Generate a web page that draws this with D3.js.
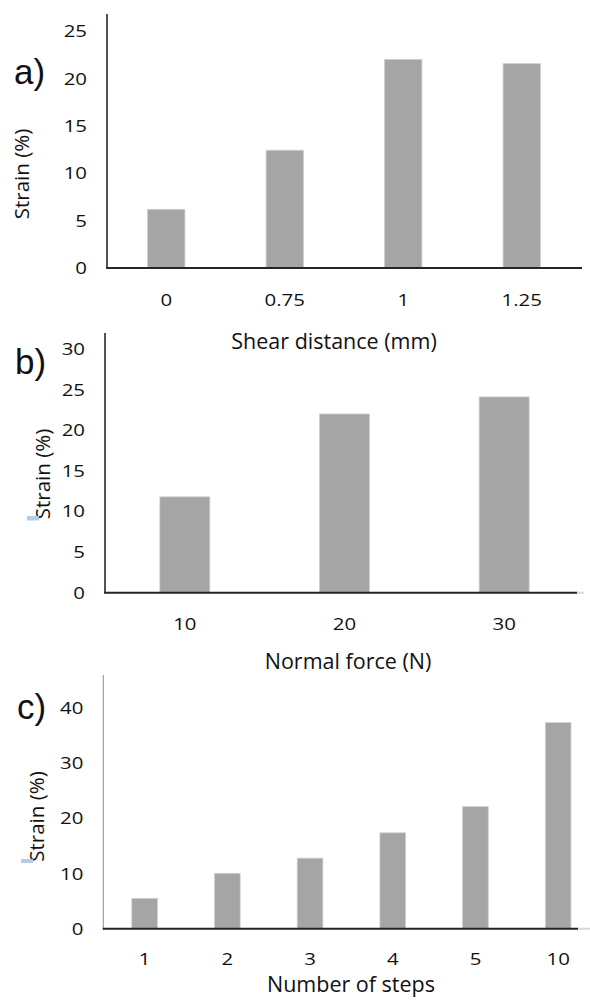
<!DOCTYPE html>
<html>
<head>
<meta charset="utf-8">
<script src="https://cdn.jsdelivr.net/npm/d3@7"></script>
<style>
  html, body { margin: 0; padding: 0; background: #fff; }
  svg { display: block; }
</style>
</head>
<body>
<svg id="chart" width="590" height="1005"></svg>
<script>
// ---- data ----
const catsA = ["0", "0.75", "1", "1.25"];
const valsA = [6.2, 12.45, 22.05, 21.6];
const ticksA = [0, 5, 10, 15, 20, 25];

const catsB = ["10", "20", "30"];
const valsB = [11.8, 22.0, 24.1];
const ticksB = [0, 5, 10, 15, 20, 25, 30];

const catsC = ["1", "2", "3", "4", "5", "10"];
const valsC = [5.5, 10.05, 12.8, 17.4, 22.15, 37.4];
const ticksC = [0, 10, 20, 30, 40];

const panelLabels = ["a)", "b)", "c)"];
const xTitles = ["Shear distance (mm)", "Normal force (N)", "Number of steps"];
const yTitle = "Strain (%)";

// ---- layout ----
const svg = d3.select("#chart");
const FONT = "'Open Sans', sans-serif";
const TICK_FS = 17;
const TICK_SX = 1.2;

const panels = [
  { cats: catsA, vals: valsA, ticks: ticksA, max: 25,
    x0: 107, x1: 581, base: 268, top: 31.5, axisTop: 14, pad: 0.685,
    baseEnd: 582, greyEnd: null, yAxisColor: "#1a1a1a", yAxisW: 1.5,
    xTickY: 306.5, titleX: 334, titleY: 349,
    labX: 14, labY: 84, yLabX: 28.5, yLabY: 174, mark: null },
  { cats: catsB, vals: valsB, ticks: ticksB, max: 30,
    x0: 105, x1: 584, base: 592.7, top: 349, axisTop: 333, pad: 0.687,
    baseEnd: 577, greyEnd: 584, yAxisColor: "#1a1a1a", yAxisW: 1.5,
    xTickY: 630, titleX: 348, titleY: 669,
    labX: 15, labY: 374, yLabX: 50, yLabY: 474, mark: [27, 516, 12, 4.5] },
  { cats: catsC, vals: valsC, ticks: ticksC, max: 40,
    x0: 103.3, x1: 599.5, base: 928.7, top: 708.3, axisTop: 675, pad: 0.69,
    baseEnd: 578, greyEnd: 590, yAxisColor: "#8c8c8c", yAxisW: 1,
    xTickY: 965, titleX: 351, titleY: 992,
    labX: 17, labY: 719, yLabX: 43.5, yLabY: 816.5, mark: [21, 859, 12, 4] }
];

panels.forEach((p, i) => {
  const g = svg.append("g");
  const x = d3.scaleBand().domain(p.cats).range([p.x0, p.x1])
    .paddingInner(p.pad).paddingOuter(p.pad / 2);
  const y = d3.scaleLinear().domain([0, p.max]).range([p.base, p.top]);

  // bars
  g.selectAll("rect.bar").data(p.vals).enter().append("rect")
    .attr("class", "bar")
    .attr("x", (d, j) => x(p.cats[j]))
    .attr("width", x.bandwidth())
    .attr("y", d => y(d))
    .attr("height", d => y(0) - y(d))
    .attr("fill", "#a5a5a5")
    .attr("stroke", "#cfcfcf")
    .attr("stroke-width", 0.8);

  // y axis (labels only)
  const yAx = g.append("g").attr("transform", `translate(${p.x0},0)`)
    .call(d3.axisLeft(y).tickValues(p.ticks).tickSize(0).tickPadding(20).tickFormat(d3.format("d")));
  yAx.select(".domain").remove();
  yAx.selectAll("text")
    .attr("font-family", FONT).attr("font-size", TICK_FS).attr("fill", "#111")
    .attr("x", -20 / TICK_SX)
    .attr("transform", `scale(${TICK_SX},1)`);

  // y axis line
  g.append("line")
    .attr("x1", p.x0).attr("x2", p.x0)
    .attr("y1", p.axisTop).attr("y2", y(0) + 1)
    .attr("stroke", p.yAxisColor).attr("stroke-width", p.yAxisW);

  // x axis
  const xAx = g.append("g").attr("transform", `translate(0,${p.base})`)
    .call(d3.axisBottom(x).tickSize(0));
  xAx.select(".domain").remove();
  xAx.selectAll("text")
    .attr("y", p.xTickY - p.base).attr("dy", 0)
    .attr("transform", `scale(${TICK_SX},1)`)
    .attr("font-family", FONT).attr("font-size", TICK_FS).attr("fill", "#111");

  // baseline
  if (p.greyEnd) {
    g.append("line")
      .attr("x1", p.baseEnd).attr("x2", p.greyEnd)
      .attr("y1", y(0)).attr("y2", y(0))
      .attr("stroke", "#d9d9d9").attr("stroke-width", 2);
  }
  g.append("line")
    .attr("x1", p.x0 - 0.5).attr("x2", p.baseEnd)
    .attr("y1", y(0)).attr("y2", y(0))
    .attr("stroke", "#262626").attr("stroke-width", 2);

  // x title
  g.append("text")
    .attr("x", p.titleX).attr("y", p.titleY)
    .attr("text-anchor", "middle")
    .attr("font-family", FONT).attr("font-size", 21.5).attr("fill", "#111")
    .text(xTitles[i]);

  // y title
  g.append("text")
    .attr("transform", `translate(${p.yLabX},${p.yLabY}) rotate(-90)`)
    .attr("text-anchor", "middle")
    .attr("font-family", FONT).attr("font-size", 20.5).attr("fill", "#111")
    .text(yTitle);

  // small blue marker
  if (p.mark) {
    g.append("rect")
      .attr("x", p.mark[0]).attr("y", p.mark[1])
      .attr("width", p.mark[2]).attr("height", p.mark[3])
      .attr("fill", "#b3cde6");
  }

  // panel label
  g.append("text")
    .attr("x", p.labX).attr("y", p.labY)
    .attr("font-family", "'Liberation Sans', Arial, sans-serif")
    .attr("font-size", 35).attr("fill", "#111")
    .text(panelLabels[i]);
});
</script>
</body>
</html>
